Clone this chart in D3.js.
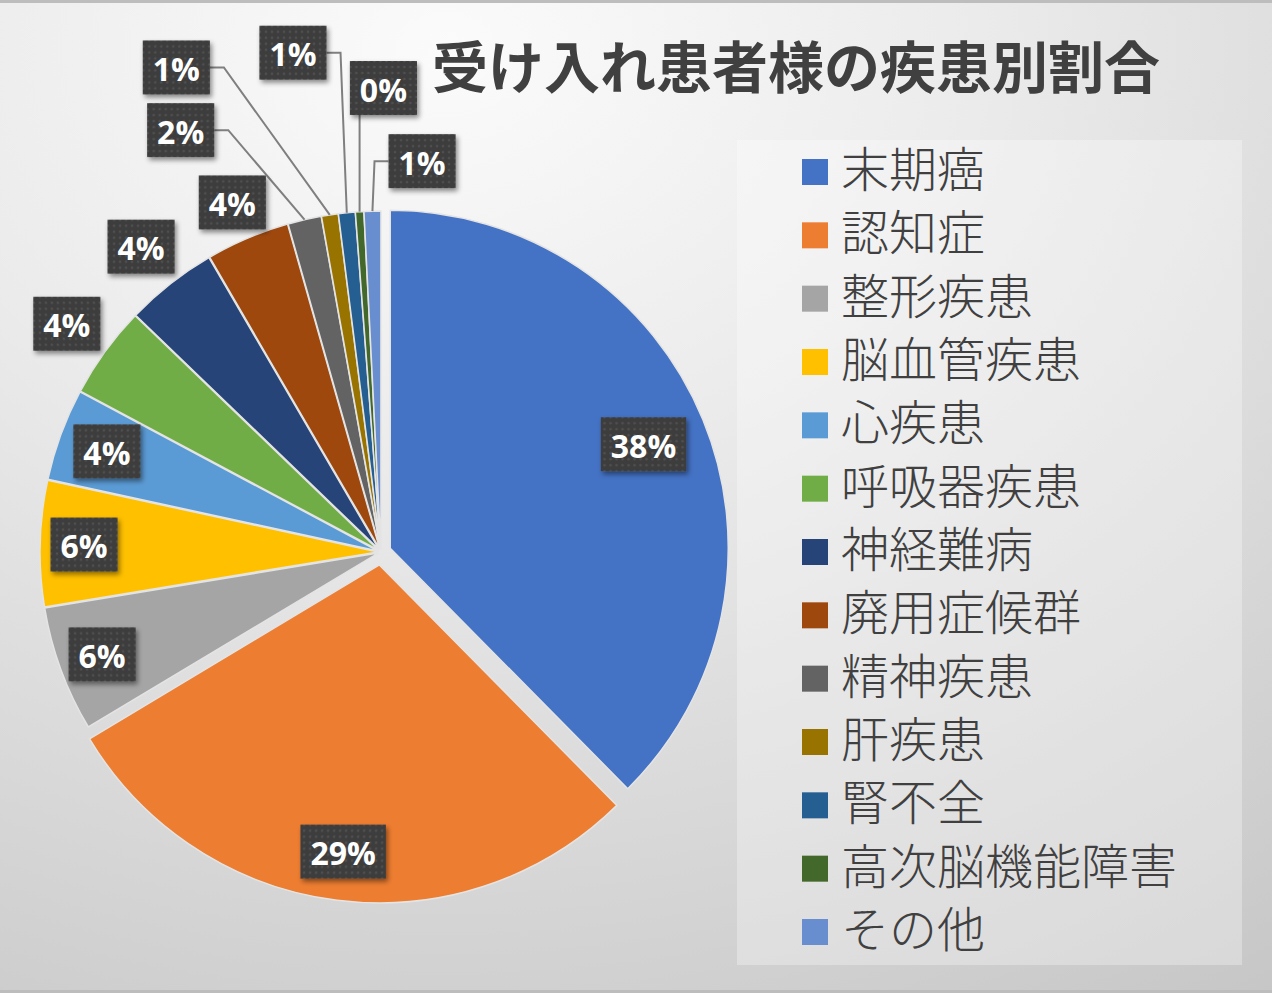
<!DOCTYPE html>
<html>
<head>
<meta charset="utf-8">
<script src="https://cdn.jsdelivr.net/npm/d3@7"></script>
<style>
  body { margin: 0; background: #fff; }
  svg { display: block; }
</style>
</head>
<body>
<svg id="chart"></svg>
<script>
// データ
const title = "受け入れ患者様の疾患別割合";
const categories = ["末期癌", "認知症", "整形疾患", "脳血管疾患", "心疾患", "呼吸器疾患", "神経難病",
                    "廃用症候群", "精神疾患", "肝疾患", "腎不全", "高次脳機能障害", "その他"];
const counts = [94, 72, 15, 15, 11, 11, 11, 10, 4, 2, 2, 1, 2];
const colors = ["#4472C4", "#ED7D31", "#A5A5A5", "#FFC000", "#5B9BD5", "#70AD47", "#264478",
                "#9E480E", "#636363", "#997300", "#255E91", "#43682B", "#698ED0"];

// 切り出し量（px）
const explode = [10, 13, 3, 3, 3, 3, 3, 3, 3, 3, 3, 3, 3];

// ラベル配置: in = 扇形からの半径比, leader = 引き出し線つき（中心からの角度と距離）
const labelSpots = [
  {kind: "in", k: 0.81}, {kind: "in", k: 0.855}, {kind: "in", k: 0.87}, {kind: "in", k: 0.87},
  {kind: "in", k: 0.855}, {kind: "in", k: 1.14}, {kind: "in", k: 1.14}, {kind: "in", k: 1.115},
  {kind: "leader", angle: 334.6, dist: 467}, {kind: "leader", angle: 337.1, dist: 526},
  {kind: "leader", angle: 350.0, dist: 507}, {kind: "leader", angle: 0.3, dist: 464},
  {kind: "leader", angle: 6.0, dist: 393}
];

let width = 1272;
let height = 993;
let cx = 381, cy = 552, radius = 338;

let svg = d3.select("#chart").attr("width", width).attr("height", height);
let defs = svg.append("defs");

// 背景グラデーション
let bg = defs.append("radialGradient").attr("id", "bg")
  .attr("cx", 0.35).attr("cy", 0.05).attr("r", 1.2).attr("fx", 0.35).attr("fy", 0.05);
bg.append("stop").attr("offset", 0).attr("stop-color", "#fbfbfb");
bg.append("stop").attr("offset", 0.35).attr("stop-color", "#ebebeb");
bg.append("stop").attr("offset", 1).attr("stop-color", "#c4c4c4");

// ラベルのドット柄
let pat = defs.append("pattern").attr("id", "dots").attr("patternUnits", "userSpaceOnUse")
  .attr("width", 6).attr("height", 6);
pat.append("rect").attr("width", 6).attr("height", 6).attr("fill", "#3d3d3d");
pat.append("circle").attr("cx", 3).attr("cy", 3).attr("r", 1.3).attr("fill", "#505050");

let shadow = defs.append("filter").attr("id", "shadow")
  .attr("x", "-30%").attr("y", "-30%").attr("width", "160%").attr("height", "160%");
shadow.append("feDropShadow").attr("dx", 2).attr("dy", 3).attr("stdDeviation", 2.5)
  .attr("flood-color", "#000").attr("flood-opacity", 0.45);

svg.append("rect").attr("width", width).attr("height", height).attr("fill", "url(#bg)");
svg.append("rect").attr("width", width).attr("height", 3).attr("fill", "#bdbdbd");
svg.append("rect").attr("y", height - 3).attr("width", width).attr("height", 3).attr("fill", "#bdbdbd");

// タイトル
svg.append("text")
  .attr("x", 796).attr("y", 63)
  .attr("text-anchor", "middle").attr("dominant-baseline", "central")
  .style("font-family", "'Noto Sans CJK JP', sans-serif")
  .style("font-weight", 700).style("font-size", "56px")
  .attr("fill", "#404040")
  .text(title);

// 円グラフ
const data = categories.map((c, i) => ({name: c, count: counts[i], color: colors[i], i: i}));
const total = d3.sum(counts);
const pie = d3.pie().sort(null).value(d => d.count);
const arcs = pie(data);
const arc = d3.arc().innerRadius(0).outerRadius(radius);

const mid = d => (d.startAngle + d.endAngle) / 2;
const apex = d => {
  let a = mid(d), e = explode[d.data.i];
  return [cx + e * Math.sin(a), cy - e * Math.cos(a)];
};
const polar = (p, a, r) => [p[0] + r * Math.sin(a), p[1] - r * Math.cos(a)];

svg.append("g").selectAll("path")
  .data(arcs)
  .enter()
  .append("path")
  .attr("d", arc)
  .attr("transform", d => `translate(${apex(d)})`)
  .attr("fill", d => d.data.color)
  .attr("stroke", "#e4e4e4")
  .attr("stroke-width", 1.5)
  .attr("stroke-linejoin", "round");

// データラベル
let labelG = svg.append("g");
let lineG = labelG.append("g");
let boxH = 54, pad = 10;

arcs.forEach(d => {
  let spot = labelSpots[d.data.i];
  let pos;
  if (spot.kind === "leader") {
    pos = polar([cx, cy], spot.angle * Math.PI / 180, spot.dist);
  } else {
    pos = polar(apex(d), mid(d), radius * spot.k);
  }
  let pct = Math.round(d.data.count / total * 100) + "%";

  let g = labelG.append("g").attr("transform", `translate(${pos})`);
  let rect = g.append("rect").attr("fill", "url(#dots)").attr("filter", "url(#shadow)");
  let t = g.append("text")
    .attr("text-anchor", "middle").attr("dominant-baseline", "central")
    .attr("y", 1)
    .style("font-family", "'Open Sans', sans-serif")
    .style("font-weight", 700).style("font-size", "32px")
    .attr("fill", "#ffffff")
    .text(pct);
  let w = t.node().getComputedTextLength() + pad * 2;
  rect.attr("x", -w / 2).attr("y", -boxH / 2).attr("width", w).attr("height", boxH);

  if (spot.kind === "leader") {
    let target = polar(apex(d), mid(d), radius);
    let left = pos[0] - w / 2, right = pos[0] + w / 2;
    let pts;
    if (target[0] > right) {
      pts = [[right, pos[1]], [Math.min(right + 14, target[0]), pos[1]], target];
    } else if (target[0] < left) {
      pts = [[left, pos[1]], [Math.max(left - 14, target[0]), pos[1]], target];
    } else {
      pts = [[target[0], pos[1] + boxH / 2], target];
    }
    lineG.append("path")
      .attr("d", d3.line()(pts))
      .attr("fill", "none")
      .attr("stroke", "#7f7f7f")
      .attr("stroke-width", 2);
  }
});

// 凡例
let legend = svg.append("g");
legend.append("rect")
  .attr("x", 737).attr("y", 140).attr("width", 505).attr("height", 825)
  .attr("fill", "#ffffff").attr("fill-opacity", 0.3);

let rowY = d3.scaleLinear().domain([0, categories.length - 1]).range([170, 930]);

let items = legend.selectAll("g.item")
  .data(data)
  .enter()
  .append("g")
  .attr("class", "item")
  .attr("transform", d => `translate(0, ${rowY(d.i)})`);

items.append("rect")
  .attr("x", 802).attr("y", -11).attr("width", 26).attr("height", 26)
  .attr("fill", d => d.color);

items.append("text")
  .attr("x", 841).attr("y", -4)
  .attr("dominant-baseline", "central")
  .style("font-family", "'Noto Sans CJK JP', sans-serif")
  .style("font-weight", 300).style("font-size", "48px")
  .attr("fill", "#404040")
  .text(d => d.name);
</script>
</body>
</html>
